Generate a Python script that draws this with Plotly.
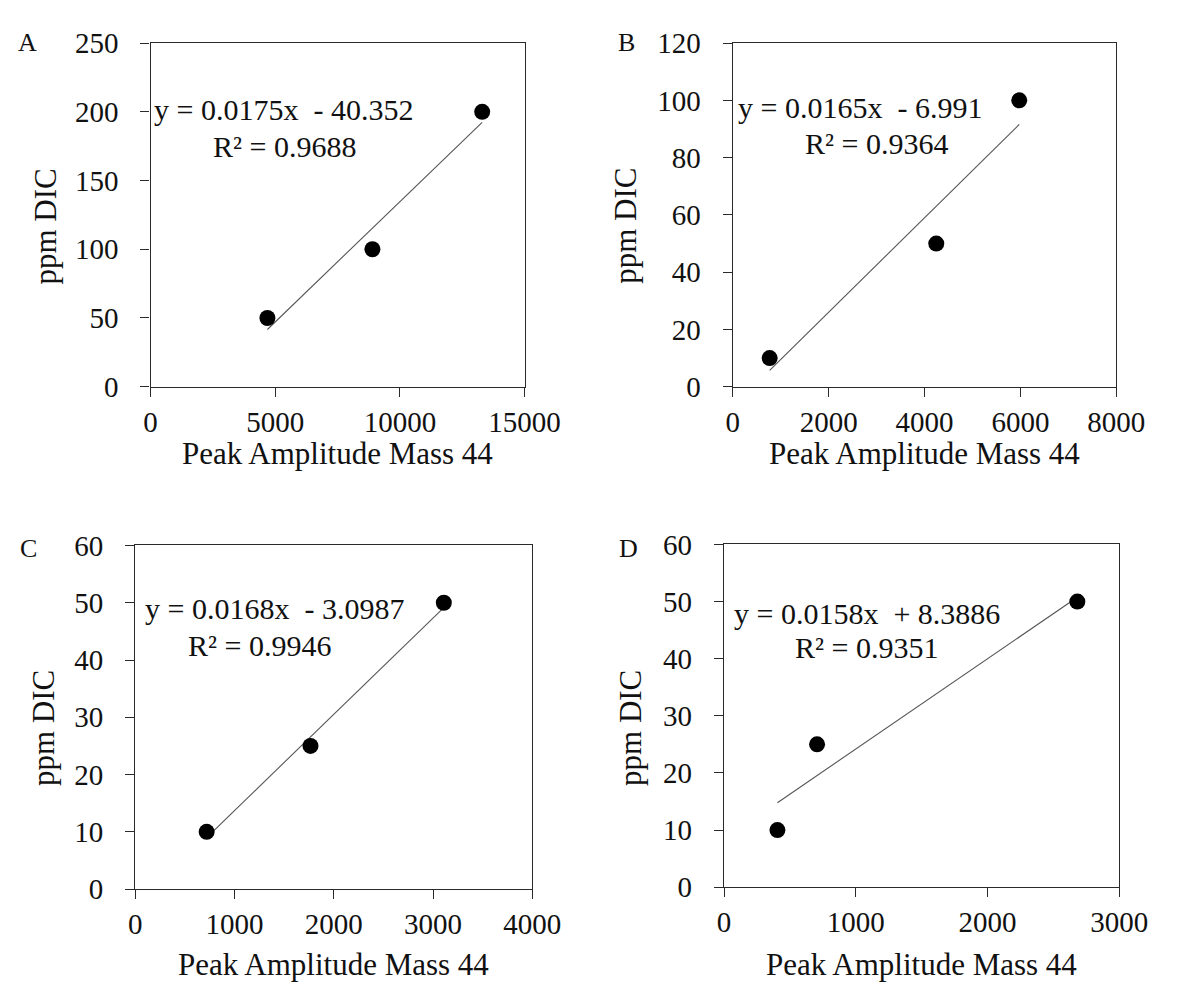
import plotly.graph_objects as go

W, H = 1188, 998
FONT = "Liberation Serif, Times New Roman, Times, serif"

panel_labels = ["A", "B", "C", "D"]
x_A = [4685, 8897, 13300]
y_A = [50, 100, 200]
x_B = [770, 4245, 5975]
y_B = [10, 50, 100]
x_C = [720, 1766, 3109]
y_C = [10, 25, 50]
x_D = [405, 706, 2682]
y_D = [10, 25, 50]
slopes = [0.0175, 0.0165, 0.0168, 0.0158]
intercepts = [-40.352, -6.991, -3.0987, 8.3886]
r_squared = ["0.9688", "0.9364", "0.9946", "0.9351"]
x_ranges = [[0, 15000], [0, 8000], [0, 4000], [0, 3000]]
x_dticks = [5000, 2000, 1000, 1000]
y_ranges = [[0, 250], [0, 120], [0, 60], [0, 60]]
y_dticks = [50, 20, 10, 10]
x_title = "Peak Amplitude Mass 44"
y_title = "ppm DIC"

xs = [x_A, x_B, x_C, x_D]
ys = [y_A, y_B, y_C, y_D]

# plot-area boxes in pixels: left, right, top, bottom
boxes = [(149, 537, 28, 383), (753, 1151, 28, 383), (133, 545, 547, 902), (744, 1154, 546, 900)]
# label positions (pixels)
letter_pos = [(21, 27), (643, 27), (22, 550), (645, 550)]
ytitle_pos = [(39, 218), (641, 217), (38, 736), (647, 736)]
xtitle_y = [452, 452, 980, 980]
eq_pos = [(287, 97), (885, 95), (278, 612), (892, 617)]
r2_pos = [(288, 135), (902, 132), (262, 650), (892, 652)]


def px(x):
    return x / W


def py(y):
    return 1 - y / H


fig = go.Figure()
annotations = []
layout = {}
for i in range(4):
    sfx = "" if i == 0 else str(i + 1)
    xa, ya = "x" + sfx, "y" + sfx
    l, r, t, b = boxes[i]
    axis_common = dict(
        showgrid=False, zeroline=False, showline=True, mirror=True,
        linecolor="#2a2a2a", linewidth=1.4, ticks="outside", ticklen=9,
        tickwidth=1.4, tickcolor="#2a2a2a",
        tickfont=dict(family=FONT, size=29, color="#111111"),
        tickformat="d", tick0=0,
    )
    layout["xaxis" + sfx] = dict(
        axis_common, domain=[px(l), px(r)], range=x_ranges[i], dtick=x_dticks[i],
        anchor=ya, ticklabelstandoff=0,
    )
    layout["yaxis" + sfx] = dict(
        axis_common, domain=[py(b), py(t)], range=y_ranges[i], dtick=y_dticks[i],
        anchor=xa, ticklabelstandoff=16,
    )
    # trendline from the printed regression equation over the data span
    x0, x1 = min(xs[i]), max(xs[i])
    fig.add_trace(go.Scatter(
        x=[x0, x1], y=[slopes[i] * x0 + intercepts[i], slopes[i] * x1 + intercepts[i]],
        mode="lines", line=dict(color="#555555", width=1.1), xaxis=xa, yaxis=ya,
        showlegend=False, hoverinfo="skip", cliponaxis=False,
    ))
    fig.add_trace(go.Scatter(
        x=xs[i], y=ys[i], mode="markers",
        marker=dict(color="black", size=16, line=dict(width=0)),
        xaxis=xa, yaxis=ya, showlegend=False, cliponaxis=False,
    ))
    sign = "-" if intercepts[i] < 0 else "+"
    eq = f"y = {slopes[i]}x\u00a0 {sign} {abs(intercepts[i])}"
    annotations.append(dict(text=eq, x=px(eq_pos[i][0]), y=py(eq_pos[i][1]), xref="paper", yref="paper",
                            xanchor="center", yanchor="middle", showarrow=False,
                            font=dict(family=FONT, size=30, color="#111111")))
    annotations.append(dict(text=f"R\u00b2 = {r_squared[i]}", x=px(r2_pos[i][0]), y=py(r2_pos[i][1]),
                            xref="paper", yref="paper", xanchor="center", yanchor="middle",
                            showarrow=False, font=dict(family=FONT, size=30, color="#111111")))
    annotations.append(dict(text=panel_labels[i], x=px(letter_pos[i][0]), y=py(letter_pos[i][1]),
                            xref="paper", yref="paper", xanchor="center", yanchor="middle",
                            showarrow=False, font=dict(family=FONT, size=26, color="#111111")))
    annotations.append(dict(text=y_title, x=px(ytitle_pos[i][0]), y=py(ytitle_pos[i][1]),
                            xref="paper", yref="paper", xanchor="center", yanchor="middle",
                            textangle=-90, showarrow=False,
                            font=dict(family=FONT, size=31, color="#111111")))
    annotations.append(dict(text=x_title, x=px((l + r) / 2), y=py(xtitle_y[i]),
                            xref="paper", yref="paper", xanchor="center", yanchor="middle",
                            showarrow=False, font=dict(family=FONT, size=31, color="#111111")))

fig.update_layout(
    width=W, height=H, margin=dict(l=0, r=0, t=0, b=0),
    paper_bgcolor="white", plot_bgcolor="white",
    annotations=annotations, **layout,
)
fig.write_html(
    "out.html",
    config={"displayModeBar": False},
    post_script="document.body.style.margin='0';document.body.style.padding='0';",
)
